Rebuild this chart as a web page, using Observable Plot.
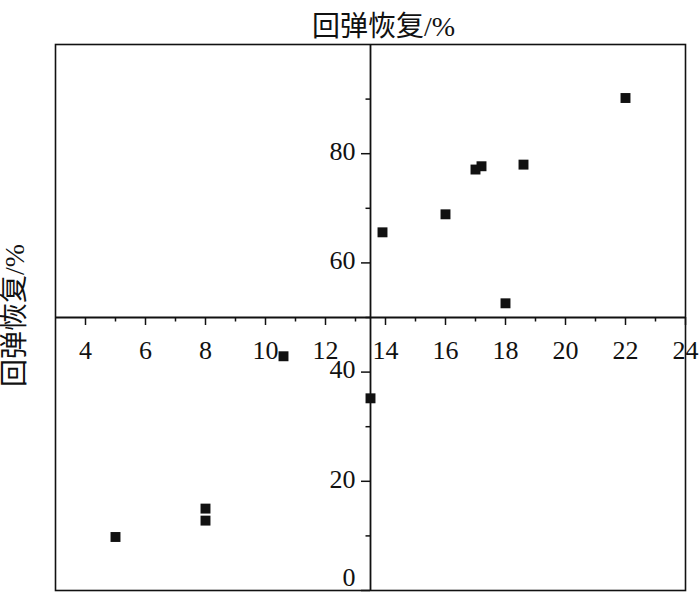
<!DOCTYPE html>
<html>
<head>
<meta charset="utf-8">
<script src="https://cdn.jsdelivr.net/npm/d3@7"></script>
<script src="https://cdn.jsdelivr.net/npm/@observablehq/plot@0.6"></script>
<style>
  html, body { margin: 0; padding: 0; background: #fff; }
  svg { overflow: visible; }
</style>
</head>
<body>
<div id="chart"></div>
<script>
// ---- data ----
const titleText = "回弹恢复/%";
const yLabelText = "回弹恢复/%";
const xValues = [22, 18.6, 17.2, 17, 16, 13.9, 18, 10.6, 13.5, 5, 8, 8];
const yValues = [90.2, 78.0, 77.7, 77.1, 68.9, 65.6, 52.6, 42.9, 35.2, 9.8, 15.0, 12.8];
const xMajorTicks = [4, 6, 8, 10, 12, 14, 16, 18, 20, 22, 24];
const xMinorTicks = [5, 7, 9, 11, 13, 15, 17, 19, 21, 23];
const yMajorTicks = [0, 20, 40, 60, 80];
const yMinorTicks = [10, 30, 50, 70, 90];
const xDomain = [3, 24];
const yDomain = [0, 100];
const xCross = 13.5;   // where the vertical axis sits
const yCross = 50;     // where the horizontal axis sits

const points = xValues.map((x, i) => ({x, y: yValues[i]}));

const W = 700, H = 592;
const mL = 55, mR = 15, mT = 44, mB = 2;
const pxPerX = (W - mL - mR) / (xDomain[1] - xDomain[0]);
const pxPerY = (H - mT - mB) / (yDomain[1] - yDomain[0]);
const serif = "'Liberation Serif', 'Times New Roman', 'Noto Sans CJK SC', serif";

const chart = Plot.plot({
  width: W,
  height: H,
  marginLeft: mL,
  marginRight: mR,
  marginTop: mT,
  marginBottom: mB,
  x: {domain: xDomain, axis: null},
  y: {domain: yDomain, axis: null},
  style: {fontFamily: serif, background: "#fff", color: "#000"},
  marks: [
    Plot.frame({stroke: "#111", strokeWidth: 1.6}),
    // crossing axes
    Plot.ruleY([yCross], {stroke: "#111", strokeWidth: 1.8}),
    Plot.ruleX([xCross], {stroke: "#111", strokeWidth: 1.8}),
    // x ticks (pointing down from horizontal axis)
    Plot.ruleX(xMajorTicks, {x: d => d, y1: yCross, y2: yCross - 8 / pxPerY, stroke: "#111", strokeWidth: 1.5}),
    Plot.ruleX(xMinorTicks, {x: d => d, y1: yCross, y2: yCross - 4.5 / pxPerY, stroke: "#111", strokeWidth: 1.5}),
    // y ticks (pointing left from vertical axis)
    Plot.ruleY(yMajorTicks, {y: d => d, x1: xCross, x2: xCross - 9 / pxPerX, stroke: "#111", strokeWidth: 1.5}),
    Plot.ruleY(yMinorTicks, {y: d => d, x1: xCross, x2: xCross - 4.5 / pxPerX, stroke: "#111", strokeWidth: 1.5}),
    // x tick labels
    Plot.text(xMajorTicks, {x: d => d, y: yCross, dy: 33, text: d => String(d), fontSize: 26, fill: "#111", fontFamily: serif}),
    // y tick labels
    Plot.text(yMajorTicks.filter(d => d !== 0), {x: xCross, y: d => d, dx: -15, dy: -2, text: d => String(d), textAnchor: "end", fontSize: 26, fill: "#111", fontFamily: serif}),
    Plot.text(yMajorTicks.filter(d => d === 0), {x: xCross, y: d => d, dx: -15, dy: -13, text: d => String(d), textAnchor: "end", fontSize: 26, fill: "#111", fontFamily: serif}),
    // data points
    Plot.dot(points, {x: "x", y: "y", symbol: "square", r: 5.6, fill: "#111", stroke: "none"}),
    // title and y label
    Plot.text([titleText], {frameAnchor: "top", dx: 13, dy: -28, text: d => d, fontSize: 28, fill: "#111", fontFamily: serif}),
    Plot.text([yLabelText], {frameAnchor: "left", textAnchor: "middle", dx: -40, dy: -2, rotate: -90, text: d => d, fontSize: 28, fill: "#111", fontFamily: serif})
  ]
});
document.getElementById("chart").appendChild(chart);
</script>
</body>
</html>
